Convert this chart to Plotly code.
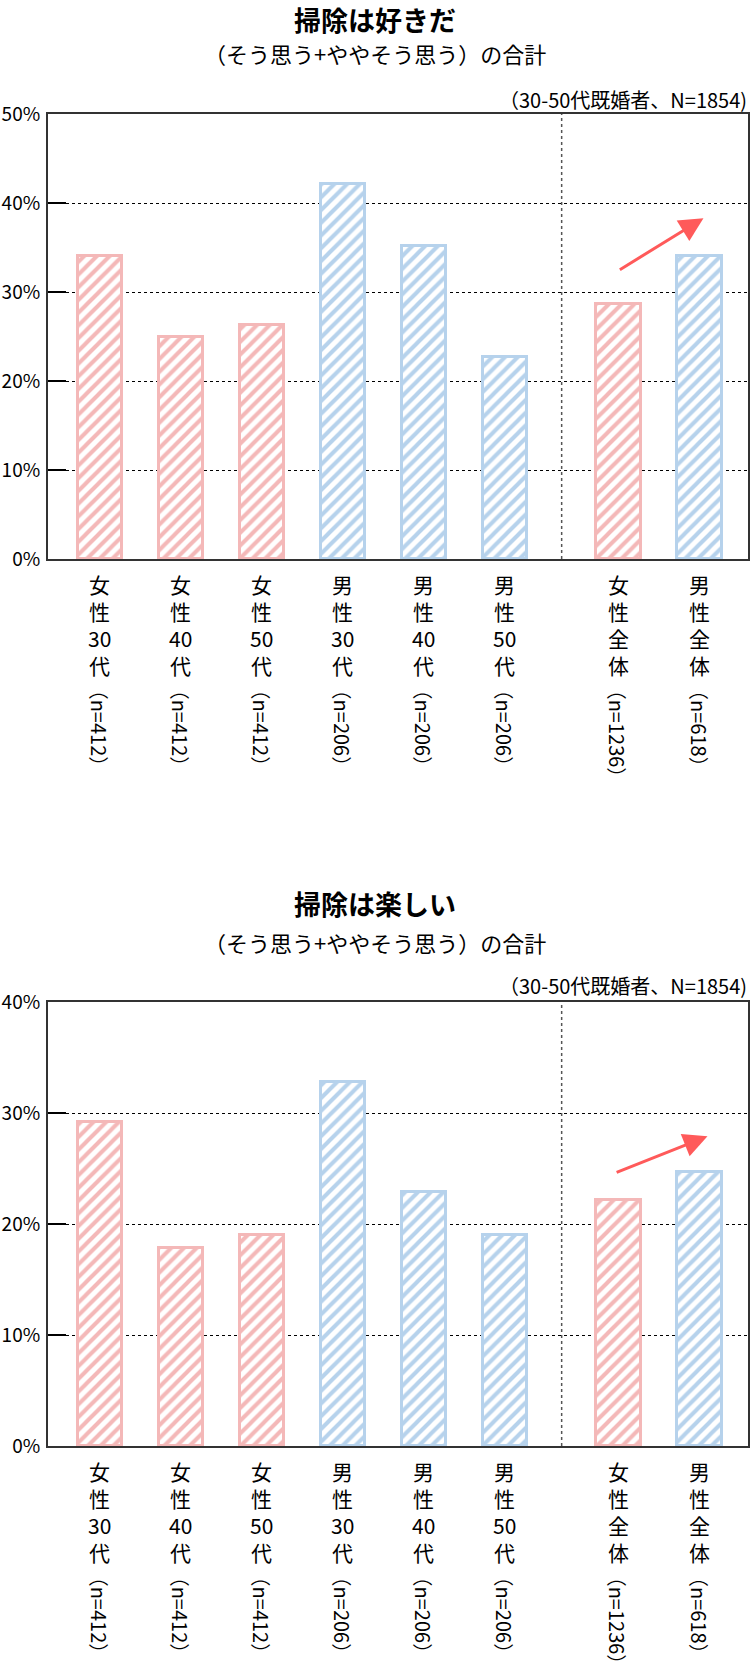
import re
import plotly.graph_objects as go

# ---------------- data ----------------
categories = ["女性30代", "女性40代", "女性50代", "男性30代", "男性40代", "男性50代", "女性全体", "男性全体"]
sample_sizes = ["（n=412）", "（n=412）", "（n=412）", "（n=206）", "（n=206）", "（n=206）", "（n=1236）", "（n=618）"]
genders = ["F", "F", "F", "M", "M", "M", "F", "M"]
like_cleaning = [34.0, 24.9, 26.3, 42.1, 35.2, 22.7, 28.6, 34.1]      # 掃除は好きだ
enjoy_cleaning = [29.2, 17.8, 19.0, 32.8, 22.9, 19.0, 22.2, 24.7]     # 掃除は楽しい
ticks_chart1 = [0, 10, 20, 30, 40, 50]
ticks_chart2 = [0, 10, 20, 30, 40]
titles = ["掃除は好きだ", "掃除は楽しい"]
subtitle = "（そう思う+ややそう思う）の合計"
note = "（30-50代既婚者、N=1854)"

# ---------------- layout / style ----------------
W, H = 750, 1678
FONT = "Noto Sans CJK JP"
PINK = "#F4B8B8"
BLUE = "#B6D2EC"
ARROW = "#FF5A5A"
x_pos = [0, 1, 2, 3, 4, 5, 6.4, 7.4]
divider_x = 5.7
colors = [PINK if g == "F" else BLUE for g in genders]

plots = [
    dict(vals=like_cleaning, ticks=ticks_chart1, top=114, bottom=559, title_y=19, sub_y=53, note_y=100,
         arrow=(6.4, 32.4, 7.45, 38.3)),
    dict(vals=enjoy_cleaning, ticks=ticks_chart2, top=1002, bottom=1446, title_y=903, sub_y=942, note_y=985,
         arrow=(6.36, 24.6, 7.5, 27.9)),
]

def py(p):
    return 1 - p / H

fig = go.Figure()
annotations = []
shapes = []

for i, p in enumerate(plots):
    xa = "x" if i == 0 else "x2"
    ya = "y" if i == 0 else "y2"
    fig.add_trace(go.Bar(
        x=x_pos, y=p["vals"], width=0.55,
        xaxis=xa, yaxis=ya,
        marker=dict(
            color="white",
            line=dict(color=colors, width=3),
            pattern=dict(shape="/", fgcolor=colors, bgcolor="white", size=9, solidity=0.45, fillmode="replace"),
        ),
        hoverinfo="skip", showlegend=False,
    ))
    axis_common = dict(showline=True, mirror=True, linecolor="#333333", linewidth=2)
    fig.update_layout({
        ("xaxis" if i == 0 else "xaxis2"): dict(
            domain=[0, 1], anchor=ya, range=[-0.64, 8.0], showticklabels=False,
            showgrid=False, zeroline=False, ticks="", **axis_common),
        ("yaxis" if i == 0 else "yaxis2"): dict(
            domain=[py(p["bottom"]), py(p["top"])], anchor=xa,
            range=[0, p["ticks"][-1]], tickvals=p["ticks"],
            ticktext=[f"{t}%" for t in p["ticks"]],
            ticks="inside", ticklen=18, tickcolor="black", tickwidth=1.5,
            showgrid=True, gridcolor="black", griddash="dot", gridwidth=1,
            zeroline=False, tickfont=dict(family=FONT, size=19, color="black"),
            ticklabelstandoff=2, automargin=False, **axis_common),
    })
    # divider
    shapes.append(dict(type="line", xref=xa, yref=f"{ya} domain", x0=divider_x, x1=divider_x, y0=0, y1=1,
                       line=dict(color="#555555", width=1.5, dash="3px,3px"), layer="below"))
    # arrow
    x0, y0, x1, y1 = p["arrow"]
    annotations.append(dict(xref=xa, yref=ya, axref=xa, ayref=ya, x=x1, y=y1, ax=x0, ay=y0, text="",
                            showarrow=True, arrowhead=2, arrowsize=1.6, arrowwidth=3, arrowcolor=ARROW,
                            standoff=0, startstandoff=0))
    # titles
    annotations.append(dict(xref="paper", yref="paper", x=(375 - 48) / 700, y=py(p["title_y"]),
                            text=f"<b>{titles[i]}</b>", showarrow=False, xanchor="center", yanchor="middle",
                            borderpad=0, font=dict(family=FONT, size=27, color="black")))
    annotations.append(dict(xref="paper", yref="paper", x=(375 - 48) / 700, y=py(p["sub_y"]),
                            text=subtitle, showarrow=False, xanchor="center", yanchor="middle",
                            borderpad=0, font=dict(family=FONT, size=22, color="black")))
    annotations.append(dict(xref="paper", yref="paper", x=(748 - 48) / 700, y=py(p["note_y"]),
                            text=note, showarrow=False, xanchor="right", yanchor="middle",
                            borderpad=0, font=dict(family=FONT, size=20, color="black")))
    # vertical category labels
    for xp, cat, n in zip(x_pos, categories, sample_sizes):
        chunks = re.findall(r"\d+|.", cat)
        for k, ch in enumerate(chunks):
            annotations.append(dict(xref=xa, yref=ya, x=xp, y=0, text=ch, showarrow=False,
                                    xanchor="center", yanchor="middle", yshift=-(25 + k * 27),
                                    borderpad=0,
                                    font=dict(family=FONT, size=21, color="black")))
        annotations.append(dict(xref=xa, yref=ya, x=xp, y=0, text=n, showarrow=False, textangle=90,
                                xanchor="center", yanchor="top", yshift=-120, borderpad=0,
                                font=dict(family=FONT, size=20, color="black")))

fig.update_layout(
    width=W, height=H,
    margin=dict(l=48, r=2, t=0, b=0),
    paper_bgcolor="white", plot_bgcolor="white",
    annotations=annotations, shapes=shapes,
    bargap=0, showlegend=False,
    font=dict(family=FONT),
)

fig.write_html("out.html")
